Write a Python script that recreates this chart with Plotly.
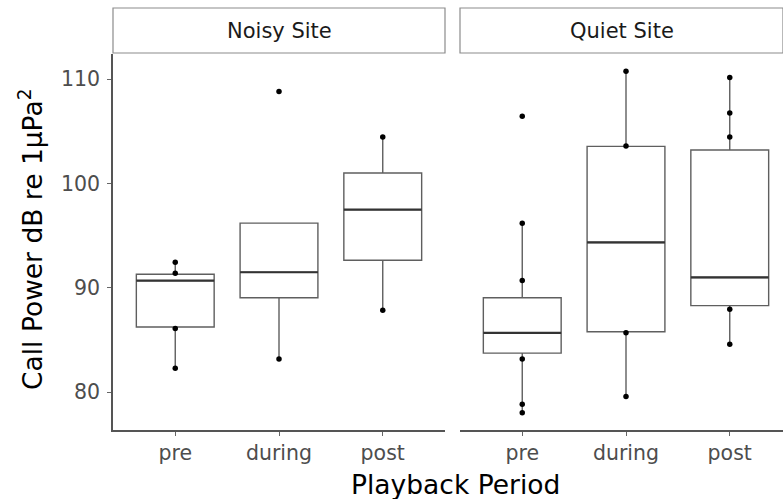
import plotly.graph_objects as go

periods = ["pre", "during", "post"]
sites = ["Noisy Site", "Quiet Site"]

# Box statistics per site (order: pre, during, post)
noisy_q1 = [86.25, 89.05, 92.65]
noisy_med = [90.7, 91.5, 97.5]
noisy_q3 = [91.3, 96.2, 101.0]
noisy_lo = [82.3, 83.2, 87.85]
noisy_hi = [92.45, 96.2, 104.45]

quiet_q1 = [83.75, 85.8, 88.3]
quiet_med = [85.7, 94.35, 91.0]
quiet_q3 = [89.05, 103.55, 103.2]
quiet_lo = [78.05, 79.6, 84.6]
quiet_hi = [96.2, 110.75, 110.15]

# Observed points (overlaid)
noisy_pts = {
    "pre": [92.45, 91.4, 86.1, 82.3],
    "during": [108.8, 83.2],
    "post": [104.45, 87.85],
}
quiet_pts = {
    "pre": [106.45, 96.2, 90.7, 83.2, 78.85, 78.05],
    "during": [110.75, 103.6, 85.7, 79.6],
    "post": [110.15, 106.75, 104.45, 87.95, 84.6],
}

BOX_W = 0.75
FONT = "DejaVu Sans"

fig = go.Figure()

def add_panel(q1, med, q3, lo, hi, pts, xa, ya):
    for i, p in enumerate(periods):
        xv = i + 1
        fig.add_trace(go.Box(
            x=[xv], q1=[q1[i]], median=[med[i]], q3=[q3[i]],
            lowerfence=[lo[i]], upperfence=[hi[i]],
            width=BOX_W, boxpoints=False, whiskerwidth=0,
            fillcolor="rgba(255,255,255,0)",
            line=dict(color="#5f5f5f", width=1.4),
            xaxis=xa, yaxis=ya, showlegend=False, hoverinfo="skip",
        ))
        # darker median line
        fig.add_trace(go.Scatter(
            x=[xv - BOX_W / 2, xv + BOX_W / 2], y=[med[i], med[i]],
            mode="lines", line=dict(color="#333333", width=2.2),
            xaxis=xa, yaxis=ya, showlegend=False, hoverinfo="skip",
        ))
        fig.add_trace(go.Scatter(
            x=[xv] * len(pts[p]), y=pts[p], mode="markers",
            marker=dict(color="black", size=5.5),
            xaxis=xa, yaxis=ya, showlegend=False, hoverinfo="skip",
        ))

add_panel(noisy_q1, noisy_med, noisy_q3, noisy_lo, noisy_hi, noisy_pts, "x", "y")
add_panel(quiet_q1, quiet_med, quiet_q3, quiet_lo, quiet_hi, quiet_pts, "x2", "y2")

W, H = 783, 499
L, R, T, B = 113, 0, 54, 69
pw = W - L - R
ph = H - T - B
unit = 103.75
d1_end = (445 - L) / pw
d2_start = (460 - L) / pw
x2_end = 0.4 + (W - 460) / unit

yr = [76.39, 112.4]
tickfont = dict(family=FONT, size=20.5, color="#4d4d4d")

xcommon = dict(
    tickmode="array", tickvals=[1, 2, 3], ticktext=periods,
    showgrid=False, zeroline=False, showline=True, linecolor="#555555", linewidth=1.5,
    ticks="outside", ticklen=4, tickcolor="#666666", tickwidth=1.3,
    tickfont=tickfont, fixedrange=True,
)
fig.update_layout(
    width=W, height=H,
    margin=dict(l=L, r=R, t=T, b=B),
    paper_bgcolor="white", plot_bgcolor="white",
    xaxis=dict(domain=[0, d1_end], range=[0.4, 3.6], anchor="y", **xcommon),
    xaxis2=dict(domain=[d2_start, 1], range=[0.4, x2_end], anchor="y2", **xcommon),
    yaxis=dict(range=yr, tickvals=[80, 90, 100, 110], showgrid=False, zeroline=False,
               showline=True, linecolor="#555555", linewidth=1.5,
               ticks="outside", ticklen=4, tickcolor="#666666", tickwidth=1.3,
               ticklabelstandoff=3, tickfont=tickfont, anchor="x"),
    yaxis2=dict(range=yr, showticklabels=False, showgrid=False, zeroline=False,
                showline=False, ticks="", anchor="x2", matches="y"),
    showlegend=False,
)

# facet strips
strip_y0 = 1 + 1 / ph
strip_y1 = 1 + (T - 8) / ph
for xref, label in [("x", sites[0]), ("x2", sites[1])]:
    fig.add_shape(type="rect", xref=f"{xref} domain", yref="paper",
                  x0=0, x1=1, y0=strip_y0, y1=strip_y1,
                  line=dict(color="#8c8c8c", width=1.2), fillcolor="white")
    fig.add_annotation(xref=f"{xref} domain", yref="paper", x=0.5,
                       y=(strip_y0 + strip_y1) / 2, text=label, showarrow=False,
                       font=dict(family=FONT, size=21, color="#1a1a1a"),
                       xanchor="center", yanchor="middle")

# axis titles
fig.add_annotation(xref="paper", yref="paper", x=(455 - L) / pw, y=-(484 - (H - B)) / ph,
                   text="Playback Period", showarrow=False,
                   font=dict(family=FONT, size=26.5, color="black"),
                   xanchor="center", yanchor="middle")
fig.add_annotation(xref="paper", yref="paper", x=-(L - 31) / pw, y=(H - B - 240) / ph,
                   text="Call Power dB re 1μPa<sup>2</sup>", showarrow=False, textangle=-90,
                   font=dict(family=FONT, size=26.5, color="black"),
                   xanchor="center", yanchor="middle")

fig.write_html("out.html", config={"displayModeBar": False},
               post_script="document.body.style.margin='0px';")
